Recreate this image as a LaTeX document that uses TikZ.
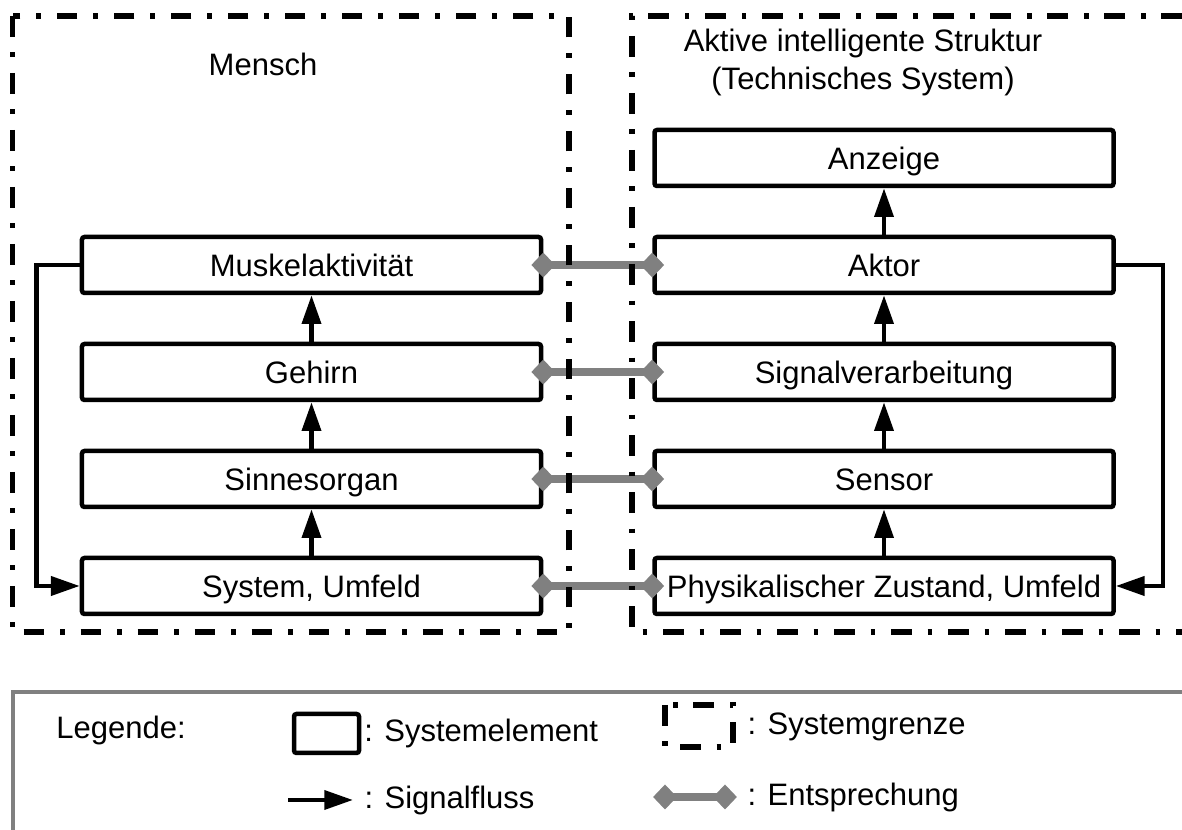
\documentclass[tikz,border=0pt]{standalone}
\usepackage{fontspec}
\setmainfont{Liberation Sans}
\usepackage{tikz}
\usetikzlibrary{arrows.meta,positioning}
\definecolor{cgrau}{RGB}{128,128,128}

\begin{document}
\begin{tikzpicture}[
  x=0.4pt, y=-0.4pt,
  font=\fontsize{12.4}{15.2}\selectfont,
  elem/.style={draw, line width=1.8pt, rounded corners=1pt, minimum width=183.6pt, minimum height=22.4pt,
               inner sep=0pt, text height=1.05em, text depth=0.1em},
  grenze/.style={line width=2.2pt, dash pattern=on 8.3pt off 6.3pt on 1.9pt off 6.3pt},
  sig/.style={-{Triangle[length=11.5pt,width=7.5pt]}, line width=1.8pt},
  entspr/.style={{Diamond[length=9.5pt,width=10pt]}-{Diamond[length=9.5pt,width=10pt]}, line width=3.2pt,
                 draw=cgrau, shorten <=-4.75pt, shorten >=-4.75pt},
  legtext/.style={inner sep=0pt, anchor=west},
]
\useasboundingbox (0,0) rectangle (1182,830);

% --- Mensch (links) ---
\node[elem] (sys) at (311.5,586) {System, Umfeld};
\node[elem, above=18.6pt of sys] (sinn) {Sinnesorgan};
\node[elem, above=18.6pt of sinn] (geh) {Gehirn};
\node[elem, above=18.6pt of geh] (musk) {Muskelaktivität};
\node (mensch) at (263,64) {Mensch};
\draw[sig] (sys.north) -- (sinn.south);
\draw[sig] (sinn.north) -- (geh.south);
\draw[sig] (geh.north) -- (musk.south);
\draw[sig] (musk.west) -- ++(-43,0) |- (sys.west);

% --- technisches System (rechts) ---
\node[elem, right=43.6pt of sys] (phys) {Physikalischer Zustand, Umfeld};
\node[elem, above=18.6pt of phys] (sens) {Sensor};
\node[elem, above=18.6pt of sens] (sv) {Signalverarbeitung};
\node[elem, above=18.6pt of sv] (aktor) {Aktor};
\node[elem, above=18.6pt of aktor] (anz) {Anzeige};
\node[align=center] (ais) at (863,62) {Aktive intelligente Struktur\\(Technisches System)};
\draw[sig] (phys.north) -- (sens.south);
\draw[sig] (sens.north) -- (sv.south);
\draw[sig] (sv.north) -- (aktor.south);
\draw[sig] (aktor.north) -- (anz.south);
\draw[sig] (aktor.east) -- ++(47,0) |- (phys.east);

% --- Entsprechungen ---
\draw[entspr] (sys.east) -- (phys.west);
\draw[entspr] (sinn.east) -- (sens.west);
\draw[entspr] (geh.east) -- (sv.west);
\draw[entspr] (musk.east) -- (aktor.west);

% --- Systemgrenzen ---
\draw[grenze] (12.5,16) rectangle (569,632);
\draw[grenze] (1182,16) -| (632,632) -- (1182,632);

% --- Legende ---
\draw[draw=cgrau, line width=1.6pt] (1182,692) -| (13,830);
\node (leg) at (121,730) {Legende:};
\node[draw, line width=1.8pt, rounded corners=1pt, minimum width=26pt, minimum height=15.6pt, inner sep=0pt]
  (legelem) at (326.5,733.5) {};
\node[legtext, right=1pt of legelem] (lelem) {: Systemelement};
\coordinate (lsa) at (288,800);
\coordinate (lsb) at (353,800);
\draw[sig] (lsa) -- (lsb);
\node[legtext] (lsig) at (364,800) {: Signalfluss};
\draw[grenze] (665,705) rectangle (733,747);
\node[legtext] (lgr) at (747,727) {: Systemgrenze};
\coordinate (lea) at (665,797);
\coordinate (leb) at (725,797);
\draw[entspr] (lea) -- (leb);
\node[legtext] (lent) at (747,797) {: Entsprechung};
\end{tikzpicture}
\end{document}
